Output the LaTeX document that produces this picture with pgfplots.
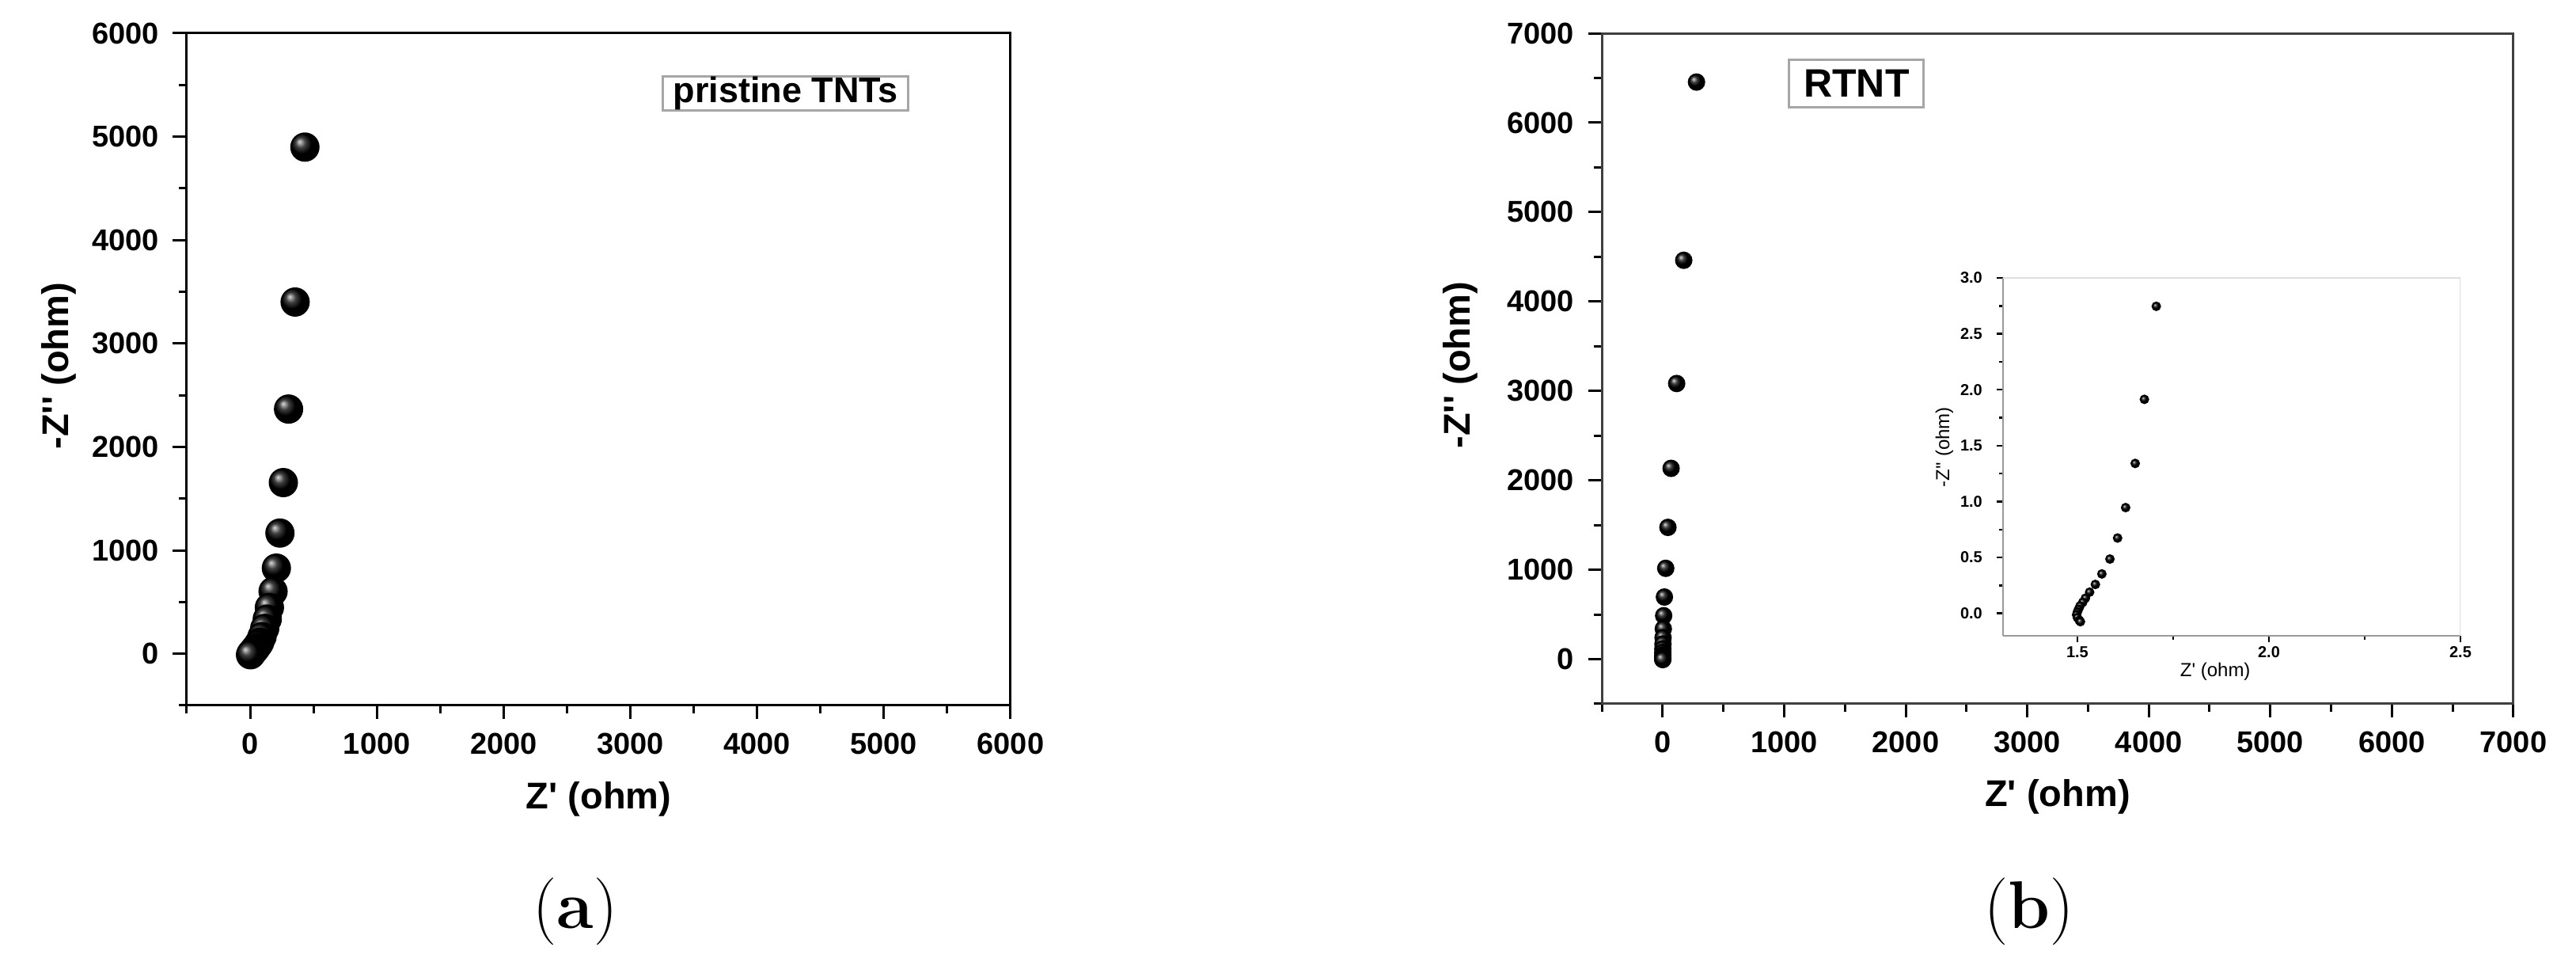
\documentclass[border=0pt]{standalone}
\usepackage{fontspec}
\setsansfont{Liberation Sans}
\usepackage{pgfplots}
\pgfplotsset{compat=1.18}

\pgfplotstableread{
x y
432 4899
355 3401
303 2366
262 1655
235 1167
207 828
181 603
152 447
135 335
115 245
94 166
75 110
62 85
45 55
31 35
18 15
10 3
3 -10
}\pristine

\pgfplotstableread{
x y
279 6454
174 4461
116 3083
70 2134
44 1474
26 1016
15 695
9 486
6 339
4 240
3 170
2 115
2 75
1.7 45
1.6 25
1.5 10
1.5 0
1.5 -5
}\rtnt

\pgfplotstableread{
x y
1.706 2.746
1.675 1.914
1.651 1.341
1.626 0.946
1.605 0.674
1.585 0.486
1.564 0.353
1.547 0.259
1.532 0.190
1.521 0.136
1.514 0.099
1.507 0.067
1.503 0.037
1.500 0.012
1.498 -0.012
1.500 -0.037
1.505 -0.062
1.508 -0.074
}\inset

\begin{document}
\begin{tikzpicture}
\path[use as bounding box] (0pt,0pt) rectangle (651pt,243pt);
\pgfplotsset{
  eis/.style={
    scale only axis, anchor=south west,
    axis line style={line width=0.6pt},
    every tick/.style={black, line width=0.6pt},
    tick align=outside,
    xtick pos=bottom, ytick pos=left,
    major tick length=3.5pt, minor tick length=2pt,
    ticklabel style={font=\sffamily\bfseries\fontsize{7.6}{8}\selectfont},
    /pgf/number format/assume math mode=true,
    /pgf/number format/1000 sep={},
    label style={font=\sffamily\bfseries\fontsize{9.4}{10}\selectfont},
    xlabel style={at={(axis description cs:0.5,-0.139)}, anchor=center},
    ylabel style={at={(axis description cs:-0.155,0.505)}, anchor=center},
    xlabel={Z\textquotesingle{} (ohm)},
    ylabel={-Z\textquotesingle\textquotesingle{} (ohm)},
  }
}

% panel (a)
\begin{axis}[eis, at={(47.2pt,64.8pt)}, width=208.2pt, height=169.8pt,
  xmin=-500, xmax=6000, ymin=-500, ymax=6000,
  xtick={0,1000,...,6000}, minor xtick={-500,500,...,5500},
  ytick={0,1000,...,6000}, minor ytick={-500,500,...,5500}]
\addplot[only marks, mark=ball, ball color=black, mark size=3.5pt] table {\pristine};
\node[draw=gray!70, line width=0.6pt, inner sep=0pt, minimum width=62pt, minimum height=8.6pt,
  font=\sffamily\bfseries\fontsize{9}{10}\selectfont] at (rel axis cs:0.727,0.911) {pristine TNTs};
\end{axis}

% panel (b)
\begin{axis}[eis, at={(404.8pt,65.2pt)}, width=230.4pt, height=169.4pt,
  axis line style={line width=0.6pt, black!75},
  xmin=-500, xmax=7000, ymin=-500, ymax=7000,
  xtick={0,1000,...,7000}, minor xtick={-500,500,...,6500},
  ytick={0,1000,...,7000}, minor ytick={-500,500,...,6500}]
\addplot[only marks, mark=ball, ball color=black, mark size=2pt] table {\rtnt};
\node[draw=gray!70, line width=0.6pt, inner sep=0pt, minimum width=34pt, minimum height=12pt,
  font=\sffamily\bfseries\fontsize{10}{11}\selectfont] at (rel axis cs:0.2795,0.9256) {RTNT};
\end{axis}

% inset
\begin{axis}[scale only axis, anchor=south west, at={(506.2pt,82.4pt)}, width=115.6pt, height=90.4pt,
  xmin=1.306, xmax=2.5, ymin=-0.2, ymax=3.0,
  axis x line*=bottom, axis y line*=left,
  axis line style={gray!80, line width=0.5pt, -},
  every tick/.style={black, line width=0.5pt},
  tick align=outside,
  major tick length=1.7pt, minor tick length=1pt,
  xtick={1.5,2.0,2.5}, minor xtick={1.75,2.25},
  ytick={0,0.5,...,3.0}, minor ytick={0.25,0.75,...,2.75},
  /pgf/number format/assume math mode=true,
  /pgf/number format/fixed, /pgf/number format/precision=1, /pgf/number format/fixed zerofill,
  ticklabel style={font=\sffamily\bfseries\fontsize{4}{5}\selectfont},
  xticklabel style={yshift=2.5pt},
  label style={font=\sffamily\fontsize{4.8}{5.5}\selectfont},
  xlabel={Z\textquotesingle{} (ohm)}, ylabel={-Z\textquotesingle\textquotesingle{} (ohm)},
  xlabel style={at={(axis description cs:0.464,-0.10)}, anchor=center},
  ylabel style={at={(axis description cs:-0.128,0.527)}, anchor=center}]
\draw[gray!25, line width=0.5pt] (rel axis cs:0,1) -- (rel axis cs:1,1) -- (rel axis cs:1,0);
\addplot[only marks, mark=ball, ball color=black, mark size=1pt] table {\inset};
\end{axis}

\node[anchor=base, font=\fontsize{17}{20}\selectfont] at (145.4pt,8.4pt) {(\textbf{a})};
\node[anchor=base, font=\fontsize{17}{20}\selectfont] at (512.8pt,8.4pt) {(\textbf{b})};
\end{tikzpicture}
\end{document}
